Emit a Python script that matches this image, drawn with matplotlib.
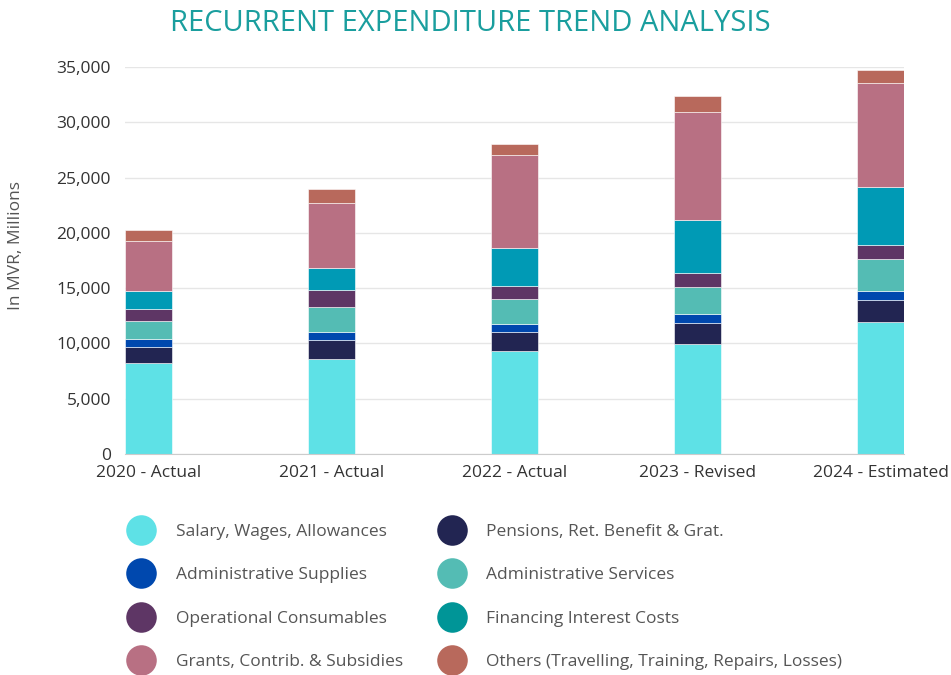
import matplotlib.pyplot as plt
from matplotlib.lines import Line2D
import numpy as np

years = ['2020 - Actual', '2021 - Actual', '2022 - Actual', '2023 - Revised', '2024 - Estimated']

salary = [8200, 8630, 9320, 9950, 11920]
pensions = [1500, 1660, 1720, 1880, 2020]
admin_supplies = [700, 700, 700, 810, 840]
admin_services = [1630, 2280, 2320, 2470, 2900]
operational = [1100, 1520, 1140, 1270, 1230]
financing = [1600, 2040, 3440, 4800, 5250]
grants = [4580, 5860, 8420, 9710, 9440]
others = [970, 1240, 990, 1450, 1150]

series = [
    ('Salary, Wages, Allowances', salary, '#5ee1e6'),
    ('Pensions, Ret. Benefit & Grat.', pensions, '#222552'),
    ('Administrative Supplies', admin_supplies, '#0048ae'),
    ('Administrative Services', admin_services, '#54bcb4'),
    ('Operational Consumables', operational, '#5e3665'),
    ('Financing Interest Costs', financing, '#009ab5'),
    ('Grants, Contrib. & Subsidies', grants, '#b87083'),
    ('Others (Travelling, Training, Repairs, Losses)', others, '#b8695c'),
]
legend_colors = {'Financing Interest Costs': '#009597'}

plt.rcParams['font.family'] = ['Open Sans', 'DejaVu Sans']

fig = plt.figure(figsize=(9.51, 6.75), dpi=100)
ax = fig.add_axes([0.1314, 0.3274, 0.8192, 0.5733])

x = np.arange(len(years))
width = 0.257
bottom = np.zeros(len(years))
for name, vals, color in series:
    ax.bar(x, vals, width, bottom=bottom, color=color, edgecolor='white', linewidth=0.4, zorder=3)
    bottom += np.array(vals)

ax.set_xlim(-width / 2, len(years) - 1 + width / 2)
ax.set_ylim(0, 35000)
ax.set_yticks(range(0, 35001, 5000))
ax.set_yticklabels([f'{v:,}' for v in range(0, 35001, 5000)])
ax.set_xticks(x)
ax.set_xticklabels(years)
ax.tick_params(length=0, labelsize=12.5, colors='#333333', pad=8)
ax.tick_params(axis='y', pad=10)
ax.grid(axis='y', color='#e6e6e6', linewidth=1, zorder=0)
for s in ['top', 'right', 'left']:
    ax.spines[s].set_visible(False)
ax.spines['bottom'].set_color('#cccccc')
ax.spines['bottom'].set_zorder(4)
ax.set_ylabel('In MVR, Millions', fontsize=12.5, color='#555555')
ax.yaxis.set_label_coords(-0.13, 0.54)

fig.text(0.495, 0.965, 'RECURRENT EXPENDITURE TREND ANALYSIS', ha='center', va='center',
         fontsize=21, color='#1a9e9e')

order = [0, 2, 4, 6, 1, 3, 5, 7]
handles = []
labels = []
for i in order:
    name, vals, color = series[i]
    handles.append(Line2D([], [], linestyle='none', marker='o', markersize=22,
                          markerfacecolor=legend_colors.get(name, color), markeredgewidth=0))
    labels.append(name)
fig.legend(handles, labels, ncol=2, loc='upper left', bbox_to_anchor=(0.123, 0.234),
           frameon=False, fontsize=12.5, labelcolor='#555555', labelspacing=1.56,
           handletextpad=1.0, columnspacing=1.8, borderaxespad=0)

fig.savefig('out.png', dpi=100)
